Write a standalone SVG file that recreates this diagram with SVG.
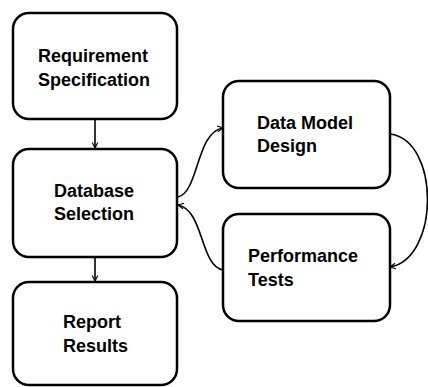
<svg xmlns="http://www.w3.org/2000/svg" width="428" height="387" viewBox="0 0 428 387">
  <style>
    .box { fill: #ffffff; stroke: #000000; stroke-width: 2.5; }
    .label { font-family: "Liberation Sans", Arial, sans-serif; font-weight: bold; font-size: 18px; fill: #000000; }
    .edge { fill: none; stroke: #000000; stroke-width: 1.6; marker-end: url(#chevron); }
  </style>
  <defs>
    <marker id="chevron" viewBox="0 0 10 10" refX="9" refY="5" markerWidth="7" markerHeight="7" markerUnits="userSpaceOnUse" orient="auto">
      <path d="M1,1 L9,5 L1,9" fill="none" stroke="#000000" stroke-width="1.6"/>
    </marker>
  </defs>
  <rect width="428" height="387" fill="#ffffff"/>

  <g id="connectors">
    <path class="edge" d="M95,120 L95,148"/>
    <path class="edge" d="M95,257 L95,281"/>
    <path class="edge" d="M178,197 C199,192 196,132 223,128"/>
    <path class="edge" d="M390,134 C440,140 440,258 390,267"/>
    <path class="edge" d="M223,270 C200,266 204,210 178,205"/>
  </g>

  <g id="requirement-specification">
    <rect class="box" x="13" y="13" width="164" height="106" rx="16"/>
    <text class="label" x="38" y="62">Requirement</text>
    <text class="label" x="38" y="86">Specification</text>
  </g>

  <g id="database-selection">
    <rect class="box" x="13" y="149" width="164" height="108" rx="16"/>
    <text class="label" x="54" y="197">Database</text>
    <text class="label" x="54" y="220">Selection</text>
  </g>

  <g id="report-results">
    <rect class="box" x="13" y="282" width="164" height="103" rx="16"/>
    <text class="label" x="63" y="328">Report</text>
    <text class="label" x="63" y="352">Results</text>
  </g>

  <g id="data-model-design">
    <rect class="box" x="223" y="81" width="167" height="107" rx="16"/>
    <text class="label" x="257" y="129">Data Model</text>
    <text class="label" x="257" y="152">Design</text>
  </g>

  <g id="performance-tests">
    <rect class="box" x="223" y="214" width="167" height="107" rx="16"/>
    <text class="label" x="248" y="262">Performance</text>
    <text class="label" x="248" y="286">Tests</text>
  </g>
</svg>
